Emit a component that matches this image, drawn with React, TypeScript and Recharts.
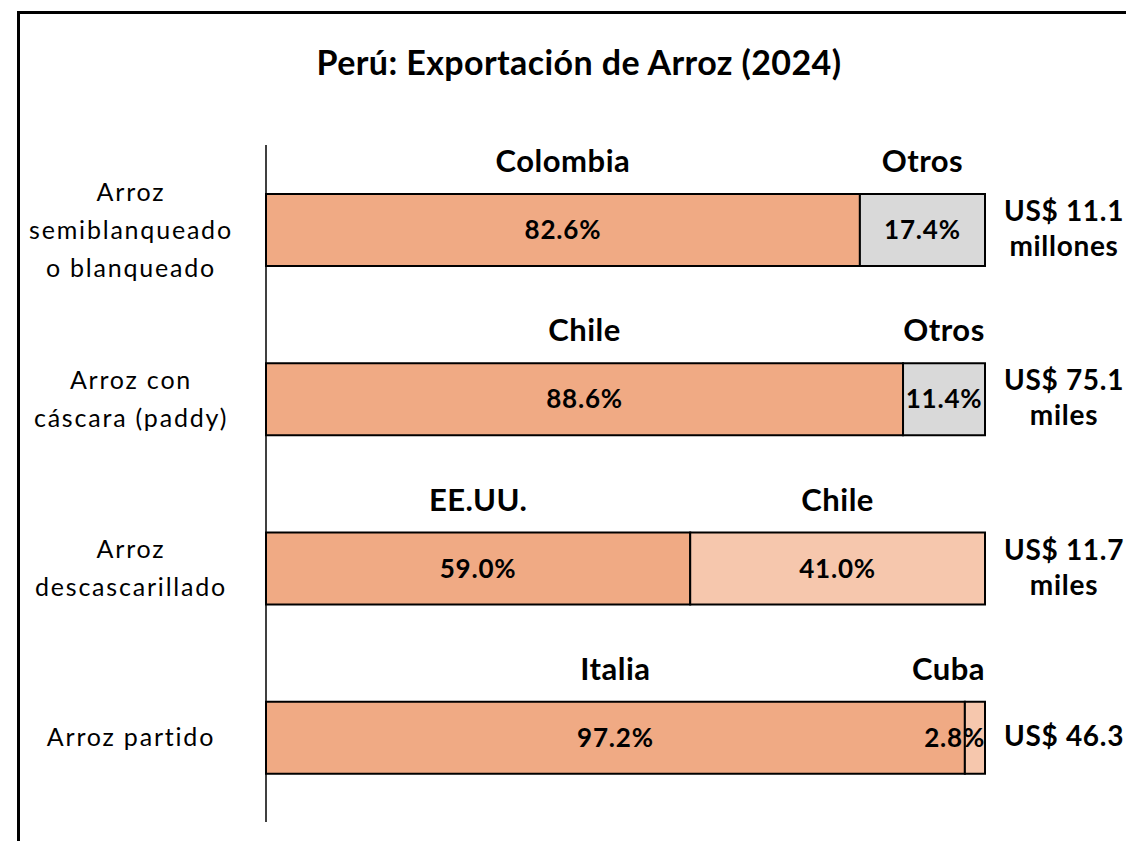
import React from "react";
import { BarChart, Bar, XAxis, YAxis, Cell, LabelList } from "recharts";

// Participación por destino (%) — Perú, exportación de arroz 2024
const productos = [
  "Arroz\nsemiblanqueado\no blanqueado",
  "Arroz con\ncáscara (paddy)",
  "Arroz\ndescascarillado",
  "Arroz partido",
];
const paisPrincipal = ["Colombia", "Chile", "EE.UU.", "Italia"];
const paisSecundario = ["Otros", "Otros", "Chile", "Cuba"];
const partPrincipal = [82.6, 88.6, 59.0, 97.2];
const partSecundaria = [17.4, 11.4, 41.0, 2.8];
const totales = ["US$ 11.1\nmillones", "US$ 75.1\nmiles", "US$ 11.7\nmiles", "US$ 46.3"];

const FONT = "Lato, 'Open Sans', sans-serif";
const SALMON = "#F0AA84";
const SALMON_CLARO = "#F6C7AD";
const GRIS = "#D9D9D9";

const data = productos.map((p, i) => ({
  producto: p,
  principal: partPrincipal[i],
  secundaria: partSecundaria[i],
  paisA: paisPrincipal[i],
  paisB: paisSecundario[i],
  total: totales[i],
}));

const PLOT_END = 985;

let ctx: CanvasRenderingContext2D | null = null;
function anchoTexto(texto: string, size: number, spacing: number) {
  if (!ctx) ctx = document.createElement("canvas").getContext("2d");
  if (!ctx) return texto.length * size * 0.56;
  ctx.font = `700 ${size}px Lato`;
  return ctx.measureText(texto).width + spacing * texto.length;
}

function centrado(cx: number, texto: string, size: number, spacing: number) {
  const w = anchoTexto(texto, size, spacing);
  return Math.min(cx, PLOT_END - w / 2);
}

function PaisLabel(props: any) {
  const { x, y, width, value } = props;
  const cx = centrado(x + width / 2, String(value), 31, 0.5);
  return (
    <text x={cx} y={y - 22} textAnchor="middle" fontFamily={FONT} fontWeight={700} fontSize={31} letterSpacing={0.5} fill="#000">
      {value}
    </text>
  );
}

function PctLabel(props: any) {
  const { x, y, width, height, value } = props;
  const txt = Number(value).toFixed(1) + "%";
  const cx = centrado(x + width / 2, txt, 26, 0.8);
  return (
    <text x={cx} y={y + height / 2 + 9} textAnchor="middle" fontFamily={FONT} fontWeight={700} fontSize={26} letterSpacing={0.8} fill="#000">
      {txt}
    </text>
  );
}

function ProductoTick(props: any) {
  const { y, payload } = props;
  const lines = String(payload.value).split("\n");
  const lh = 38;
  const y0 = y - ((lines.length - 1) * lh) / 2;
  return (
    <text textAnchor="middle" fontFamily={FONT} fontSize={25} letterSpacing={1.8} fill="#000">
      {lines.map((l, i) => (
        <tspan key={i} x={131} y={y0 + i * lh + 9}>{l}</tspan>
      ))}
    </text>
  );
}

function TotalTick(props: any) {
  const { y, payload } = props;
  const row = data.find((d) => d.producto === payload.value);
  const lines = (row ? row.total : "").split("\n");
  const lh = 35;
  const y0 = y - ((lines.length - 1) * lh) / 2;
  return (
    <text textAnchor="middle" fontFamily={FONT} fontWeight={700} fontSize={28} letterSpacing={0.7} fill="#000">
      {lines.map((l, i) => (
        <tspan key={i} x={1064} y={y0 + i * lh + 9}>{l}</tspan>
      ))}
    </text>
  );
}

export default function App() {
  return (
    <div style={{ position: "absolute", left: 0, top: 0, width: 1126, height: 841, overflow: "hidden", background: "#fff" }}>
      <div
        style={{
          position: "absolute", left: 17, top: 11, width: 1200, height: 900,
          borderLeft: "3px solid #000", borderTop: "3px solid #000",
        }}
      />
      <div
        style={{
          position: "absolute", left: 0, width: 1158, top: 41, textAlign: "center",
          fontFamily: FONT, fontWeight: 700, fontSize: 34, letterSpacing: 0.4, color: "#000",
        }}
      >
        Perú: Exportación de Arroz (2024)
      </div>
      <div style={{ position: "absolute", left: 0, top: 0 }}>
        <BarChart
          width={1126}
          height={841}
          data={data}
          layout="vertical"
          barSize={72}
          margin={{ top: 145, right: 0, bottom: 19, left: 20 }}
        >
          <XAxis type="number" domain={[0, 100]} hide />
          <YAxis
            yAxisId="izq"
            type="category"
            dataKey="producto"
            width={246}
            axisLine={{ stroke: "#000", strokeWidth: 1.5 }}
            tickLine={false}
            tick={<ProductoTick />}
            interval={0}
          />
          <YAxis
            yAxisId="der"
            orientation="right"
            type="category"
            dataKey="producto"
            width={141}
            axisLine={false}
            tickLine={false}
            tick={<TotalTick />}
            interval={0}
          />
          <Bar dataKey="principal" stackId="a" yAxisId="izq" fill={SALMON} stroke="#000" strokeWidth={2} isAnimationActive={false}>
            <LabelList dataKey="paisA" content={<PaisLabel />} />
            <LabelList dataKey="principal" content={<PctLabel />} />
          </Bar>
          <Bar dataKey="secundaria" stackId="a" yAxisId="izq" stroke="#000" strokeWidth={2} isAnimationActive={false}>
            {data.map((d, i) => (
              <Cell key={i} fill={d.paisB === "Otros" ? GRIS : SALMON_CLARO} />
            ))}
            <LabelList dataKey="paisB" content={<PaisLabel />} />
            <LabelList dataKey="secundaria" content={<PctLabel />} />
          </Bar>
        </BarChart>
      </div>
    </div>
  );
}
